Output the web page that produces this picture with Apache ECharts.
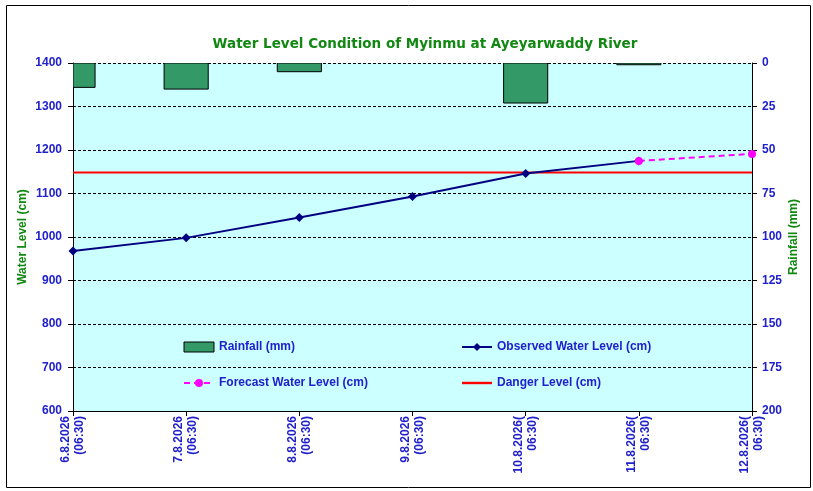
<!DOCTYPE html>
<html>
<head>
<meta charset="utf-8">
<title>Water Level Condition of Myinmu</title>
<script src="https://cdn.jsdelivr.net/npm/echarts@6/dist/echarts.min.js"></script>
<style>
  html, body { margin: 0; padding: 0; background: #fff; }
  #chart { width: 813px; height: 491px; }
</style>
</head>
<body>
<div id="chart"></div>
<script>
'use strict';

const dates = [
  '6.8.2026\n(06:30)', '7.8.2026\n(06:30)', '8.8.2026\n(06:30)', '9.8.2026\n(06:30)',
  '10.8.2026(\n06:30)', '11.8.2026(\n06:30)', '12.8.2026(\n06:30)'
];
const rainfall = [14, 15, 5, null, 23, 1, null];
const observed = [968, 998, 1045, 1093, 1146, 1175, null];
const forecast = [null, null, null, null, null, 1175, 1191];
const danger = [1148, 1148, 1148, 1148, 1148, 1148, 1148];

const blue = '#2020cc';
const green = '#118811';
const barColor = '#339966';
const labelFont = { color: blue, fontWeight: 'bold', fontSize: 12, fontFamily: 'Liberation Sans, Arial, sans-serif' };
const legendFont = { color: blue, fontWeight: 'bold', fontSize: 12, fontFamily: 'Liberation Sans Narrow, Arial Narrow, Liberation Sans, sans-serif' };
const nameFont = { color: green, fontWeight: 'bold', fontSize: 12, fontFamily: 'Liberation Sans, Arial, sans-serif' };

// rain bars are drawn by hand so the half bar at the first date gets cut at the plot edge
function renderRain(params, api) {
  const v = api.value(1);
  if (v == null || isNaN(v)) return null;
  const top = api.coord([api.value(0), 0]);
  const bottom = api.coord([api.value(0), v]);
  const w = api.size([1, 0])[0] * 0.39;
  const cs = params.coordSys;
  const rect = echarts.graphic.clipRectByRect(
    { x: top[0] - w / 2, y: top[1], width: w, height: bottom[1] - top[1] },
    { x: cs.x, y: cs.y, width: cs.width, height: cs.height }
  );
  if (!rect) return null;
  return { type: 'rect', shape: rect, style: { fill: barColor, stroke: '#000', lineWidth: 1 } };
}

const chart = echarts.init(document.getElementById('chart'));
chart.setOption({
  animation: false,
  backgroundColor: '#fff',
  title: {
    text: 'Water Level Condition of Myinmu at Ayeyarwaddy River',
    left: 420, top: 32, textAlign: 'center',
    textStyle: { color: green, fontSize: 13.5, fontWeight: 'bold', fontFamily: 'DejaVu Sans, Verdana, sans-serif' }
  },
  graphic: [{
    type: 'rect', left: 4, top: 3, z: -1,
    shape: { width: 804, height: 482 },
    style: { fill: 'none', stroke: '#000', lineWidth: 1 }
  }],
  grid: { left: 73, right: 61, top: 63, bottom: 80, show: true, backgroundColor: '#ccffff', borderWidth: 0 },
  legend: [
    {
      orient: 'vertical', left: 183, top: 341, padding: 0, itemGap: 24, itemWidth: 30, itemHeight: 10,
      textStyle: legendFont,
      data: [
        { name: 'Rainfall (mm)', icon: 'rect', itemStyle: { color: barColor, borderColor: '#000', borderWidth: 1 } },
        'Forecast Water Level (cm)'
      ]
    },
    {
      orient: 'vertical', left: 461, top: 341, padding: 0, itemGap: 24, itemWidth: 30, itemHeight: 10,
      textStyle: legendFont,
      data: [
        'Observed Water Level (cm)',
        { name: 'Danger Level (cm)', icon: 'path://M0,0L30,0L30,2.4L0,2.4Z', itemStyle: { color: '#ff0000' } }
      ]
    }
  ],
  xAxis: {
    type: 'category', data: dates, boundaryGap: false,
    axisLine: { onZero: false, lineStyle: { color: '#000', width: 1 } },
    axisTick: { show: true, length: 5, lineStyle: { color: '#000' } },
    axisLabel: Object.assign({ rotate: 90, margin: 5, interval: 0, lineHeight: 14 }, labelFont),
    splitLine: { show: false }
  },
  yAxis: [
    {
      type: 'value', min: 600, max: 1400, interval: 100,
      name: 'Water Level (cm)', nameLocation: 'middle', nameGap: 44, nameRotate: 90, nameMoveOverlap: false,
      nameTextStyle: nameFont,
      axisLine: { show: true, lineStyle: { color: '#000' } },
      axisTick: { show: true, length: 5, lineStyle: { color: '#000' } },
      axisLabel: Object.assign({ margin: 11, formatter: v => String(v) }, labelFont),
      splitLine: { show: true, lineStyle: { color: '#000', type: [3, 2], width: 1 } }
    },
    {
      type: 'value', min: 0, max: 200, interval: 25, inverse: true,
      name: 'Rainfall (mm)', nameLocation: 'middle', nameGap: 36, nameRotate: 90, nameMoveOverlap: false,
      nameTextStyle: nameFont,
      axisLine: { show: true, lineStyle: { color: '#000' } },
      axisTick: { show: true, length: 5, lineStyle: { color: '#000' } },
      axisLabel: Object.assign({ margin: 10, formatter: v => String(v) }, labelFont),
      splitLine: { show: false }
    }
  ],
  series: [
    {
      name: 'Rainfall (mm)', type: 'custom', yAxisIndex: 1, clip: true,
      data: rainfall.map((v, i) => [i, v]).filter(d => d[1] != null),
      encode: { x: 0, y: 1 },
      renderItem: renderRain,
      itemStyle: { color: barColor, borderColor: '#000', borderWidth: 1 }
    },
    {
      name: 'Danger Level (cm)', type: 'line', data: danger, showSymbol: false, symbol: 'none',
      lineStyle: { color: '#ff0000', width: 2 }, itemStyle: { color: '#ff0000' }
    },
    {
      name: 'Observed Water Level (cm)', type: 'line', data: observed,
      symbol: 'diamond', symbolSize: 9,
      lineStyle: { color: '#000080', width: 2 }, itemStyle: { color: '#000080' }
    },
    {
      name: 'Forecast Water Level (cm)', type: 'line', data: forecast,
      symbol: 'circle', symbolSize: 8,
      lineStyle: { color: '#ff00ff', width: 2, type: [6, 4] }, itemStyle: { color: '#ff00ff' }
    }
  ]
});
</script>
</body>
</html>
